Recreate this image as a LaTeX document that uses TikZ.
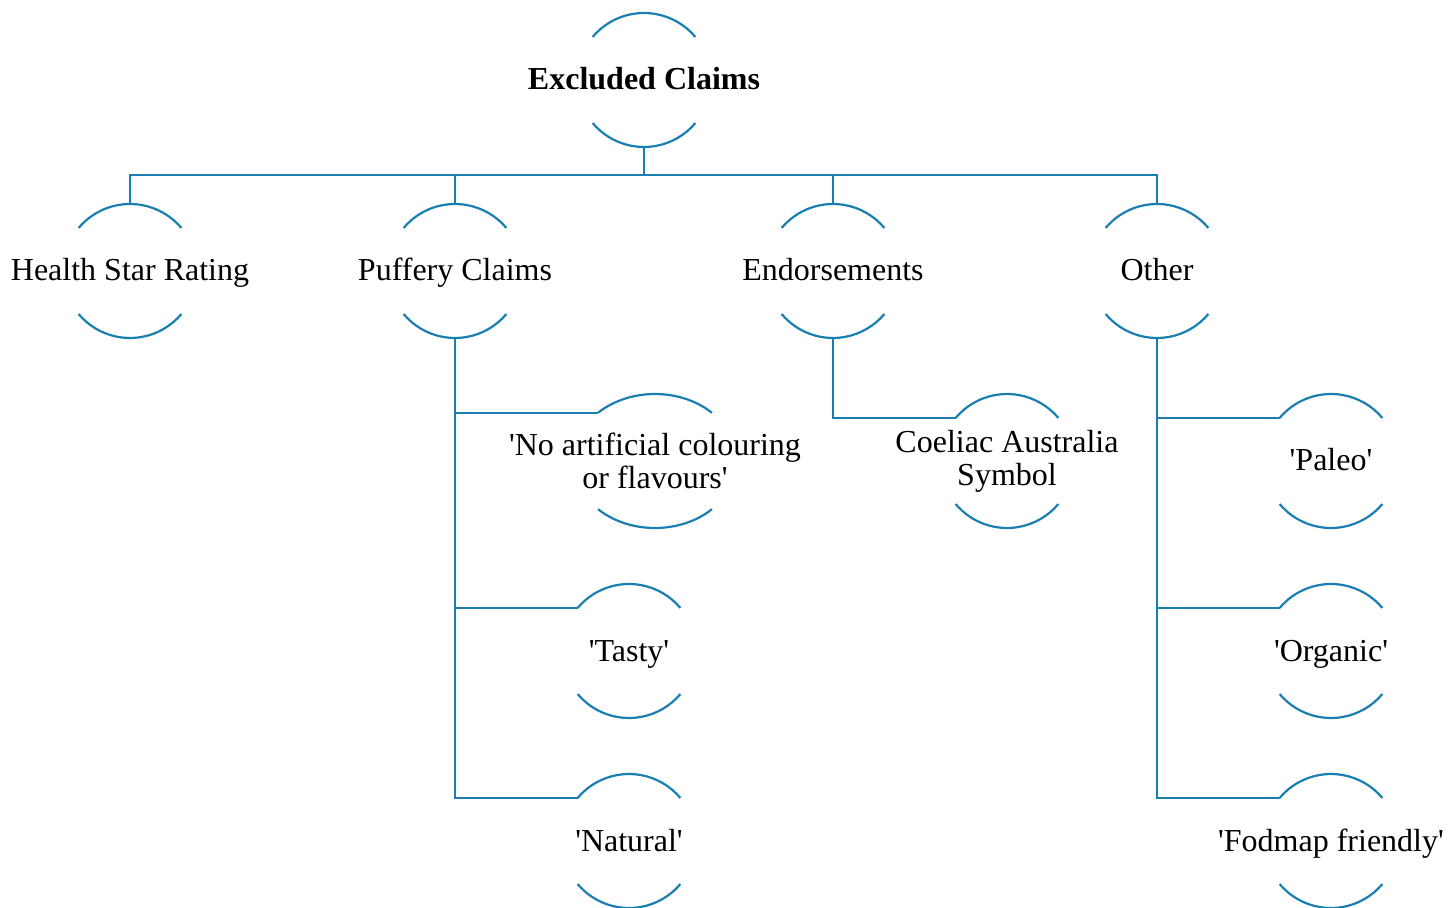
\documentclass[tikz,border=0pt]{standalone}
\usepackage{fontspec}
\setmainfont{Liberation Serif}
\usetikzlibrary{calc}

\definecolor{claimblue}{RGB}{24,127,176}

\tikzset{
  claimline/.style={draw=claimblue, line width=1.1pt},
  claim/.style={font=\fontsize{16}{16.5}\selectfont, align=center, inner sep=0pt, text height=12pt, text depth=2pt},
  claimtwo/.style={font=\fontsize{16}{16.5}\selectfont, align=center, inner sep=0pt}
}

\newcommand{\sq}{\textquotesingle}

% node, x radius, angle of arc ends
\newcommand{\claimarcs}[3]{%
  \pgfmathsetmacro\arcl{180-#3}%
  \pgfmathsetmacro\arcbl{180+#3}%
  \pgfmathsetmacro\arcbr{360-#3}%
  \coordinate (#1-in) at ([shift={(\arcl:#2 and 33.5pt)}]#1.center);
  \coordinate (#1-top) at ([yshift=33.5pt]#1.center);
  \coordinate (#1-bot) at ([yshift=-33.5pt]#1.center);
  \draw[claimline] (#1-in) arc[start angle=\arcl, end angle=#3, x radius=#2, y radius=33.5pt];
  \draw[claimline] ([shift={(\arcbl:#2 and 33.5pt)}]#1.center) arc[start angle=\arcbl, end angle=\arcbr, x radius=#2, y radius=33.5pt];
}

\begin{document}
\begin{tikzpicture}[x=0.5pt, y=-0.5pt]

\useasboundingbox (0,0) rectangle (1450,908);

\node[claim] (root) at (644,80) {\textbf{Excluded Claims}};

\node[claim] (hsr) at (130,271) {Health Star Rating};
\node[claim] (puff) at (455,271) {Puffery Claims};
\node[claim] (endo) at (833,271) {Endorsements};
\node[claim] (other) at (1157,271) {Other};

\node[claimtwo] (noart) at (655,461) {\sq No artificial colouring\\or flavours\sq};
\node[claim] (tasty) at (629,651) {\sq Tasty\sq};
\node[claim] (natural) at (629,841) {\sq Natural\sq};

\node[claimtwo] (coeliac) at (1007,461) {Coeliac Australia\\Symbol};

\node[claim] (paleo) at (1331,461) {\sq Paleo\sq};
\node[claim] (organic) at (1331,651) {\sq Organic\sq};
\node[claim] (fodmap) at (1331,841) {\sq Fodmap friendly\sq};

\foreach \n in {root,hsr,puff,endo,other,tasty,natural,coeliac,paleo,organic,fodmap}
  \claimarcs{\n}{33.5pt}{40};
\claimarcs{noart}{41pt}{46}

% tree lines
\coordinate (bar) at (644,175);
\draw[claimline] (root-bot) -- (bar);
\foreach \c in {hsr,puff,endo,other}
  \draw[claimline] (\c-top) |- (bar);

\foreach \c in {noart,tasty,natural}
  \draw[claimline] (puff-bot) |- (\c-in);
\draw[claimline] (endo-bot) |- (coeliac-in);
\foreach \c in {paleo,organic,fodmap}
  \draw[claimline] (other-bot) |- (\c-in);

\end{tikzpicture}
\end{document}
